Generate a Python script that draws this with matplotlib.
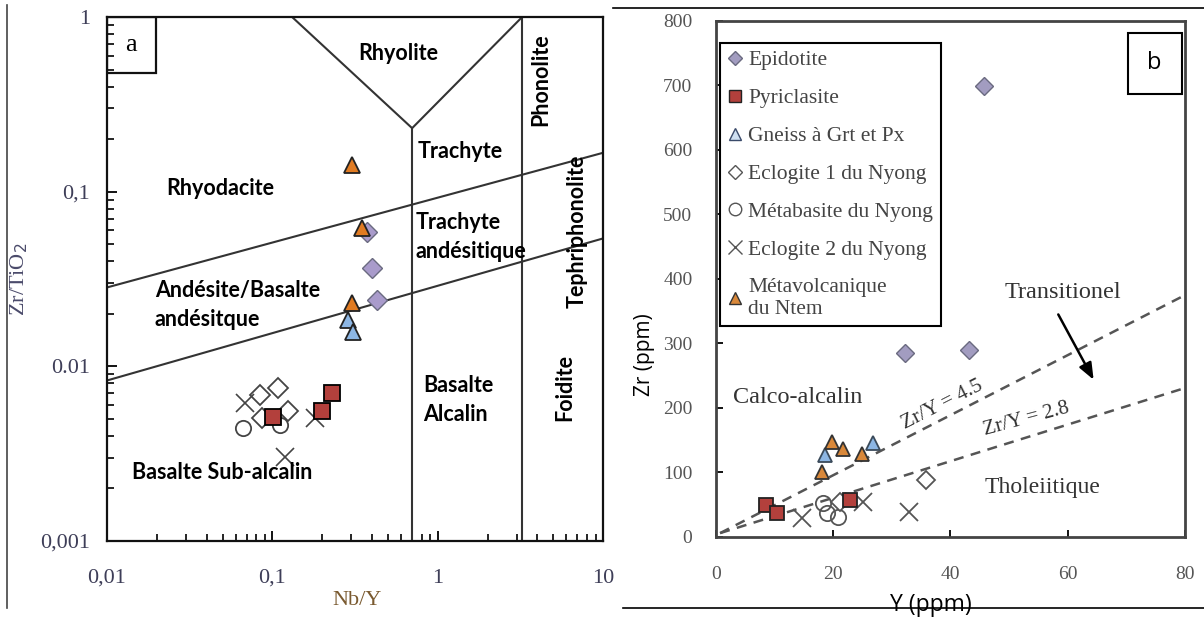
import matplotlib.pyplot as plt
from matplotlib.lines import Line2D
from matplotlib.patches import Rectangle

# ---- panel a : Zr/TiO2 vs Nb/Y (Winchester & Floyd) ----
a_epi_nby = [0.374, 0.401, 0.430]
a_epi_zr = [0.0587, 0.0365, 0.0240]
a_pyr_nby = [0.101, 0.230, 0.200]
a_pyr_zr = [0.00513, 0.00703, 0.00555]
a_gneiss_nby = [0.287, 0.308]
a_gneiss_zr = [0.0184, 0.0157]
a_ecl1_nby = [0.0842, 0.108, 0.0866, 0.124]
a_ecl1_zr = [0.00685, 0.00751, 0.00506, 0.00555]
a_metab_nby = [0.0665, 0.111]
a_metab_zr = [0.00443, 0.00461]
a_ecl2_nby = [0.0684, 0.181, 0.119]
a_ecl2_zr = [0.00617, 0.00506, 0.00303]
a_metav_nby = [0.303, 0.349, 0.303]
a_metav_zr = [0.142, 0.0619, 0.0230]

# limites des champs
upper_x, upper_y = [0.01, 10], [0.0283, 0.167]
lower_x, lower_y = [0.01, 10], [0.0083, 0.054]
v_x, v_y = [0.1316, 0.70, 3.24], [1, 0.231, 1]
vert1_x, vert1_y = [0.70, 0.70], [0.001, 0.231]
vert2_x, vert2_y = [3.24, 3.24], [0.001, 1]

# ---- panel b : Zr vs Y ----
b_epi_y = [45.8, 32.2, 43.2]
b_epi_zr = [699, 285, 290]
b_pyr_y = [8.5, 10.4, 22.8]
b_pyr_zr = [50, 37, 57]
b_gneiss_y = [18.6, 26.7]
b_gneiss_zr = [127, 146]
b_ecl1_y = [21.1, 35.9]
b_ecl1_zr = [54, 88]
b_metab_y = [18.2, 18.9, 20.8]
b_metab_zr = [53, 37, 31]
b_ecl2_y = [14.6, 25.0, 33.0]
b_ecl2_zr = [29, 54, 39]
b_metav_y = [19.8, 21.6, 18.1, 24.9]
b_metav_zr = [147, 137, 101, 129]

line45_y, line45_zr = [0.7, 80], [6, 375]
line28_y, line28_zr = [0.7, 80], [6, 231]

orange = '#e07b22'
purple = '#a99bcb'
blue = '#8cb6e4'
red = '#b3403c'
tickcol = '#3e3e58'
bold_font = 'Lato'

fig = plt.figure(figsize=(12.04, 6.21), dpi=100)

# ------------ panel a ------------
ax = fig.add_axes([0.0889, 0.1288, 0.4120, 0.8438])
ax.set_xscale('log')
ax.set_yscale('log')
ax.set_xlim(0.01, 10)
ax.set_ylim(0.001, 1)

for xs, ys in [(upper_x, upper_y), (lower_x, lower_y), (v_x, v_y),
               (vert1_x, vert1_y), (vert2_x, vert2_y)]:
    ax.plot(xs, ys, color='#333333', lw=1.5, zorder=2)

ms = 11
ax.plot(a_ecl1_nby, a_ecl1_zr, 'D', ms=10, mfc='white', mec='#444444', mew=1.3, ls='none', zorder=3)
ax.plot(a_metab_nby, a_metab_zr, 'o', ms=11, mfc='none', mec='#444444', mew=1.3, ls='none', zorder=3)
ax.plot(a_ecl2_nby, a_ecl2_zr, 'x', ms=13, mec='#444444', mew=1.2, ls='none', zorder=4)
ax.plot(a_pyr_nby, a_pyr_zr, 's', ms=ms, mfc=red, mec='black', mew=1.3, ls='none', zorder=5)
ax.plot(a_epi_nby, a_epi_zr, 'D', ms=10, mfc=purple, mec='#6a6a80', mew=1.0, ls='none', zorder=3)
ax.plot(a_gneiss_nby, a_gneiss_zr, '^', ms=ms, mfc=blue, mec='#222222', mew=1.3, ls='none', zorder=4)
ax.plot(a_metav_nby, a_metav_zr, '^', ms=ms, mfc=orange, mec='#222222', mew=1.3, ls='none', zorder=5)

for s in ax.spines.values():
    s.set_linewidth(1.6)
    s.set_color('#111111')
ax.tick_params(which='both', direction='in', top=False, right=False,
               labelsize=16, labelcolor=tickcol)
ax.tick_params(axis='x', which='both', pad=20)
ax.tick_params(axis='y', which='both', pad=12)
ax.tick_params(which='major', length=7, width=1.3)
ax.tick_params(which='minor', length=5, width=1.2)
ax.set_xticks([0.01, 0.1, 1, 10])
ax.set_xticklabels(['0,01', '0,1', '1', '10'], family='Liberation Serif')
ax.set_yticks([0.001, 0.01, 0.1, 1])
ax.set_yticklabels(['0,001', '0.01', '0,1', '1'], family='Liberation Serif')
ax.set_xlabel('Nb/Y', family='Liberation Serif', fontsize=16, color='#7a5a30')
ax.xaxis.set_label_coords(0.505, -0.095)
ax.set_ylabel('Zr/TiO$_2$', family='Liberation Serif', fontsize=16, color='#4a4a6a')
ax.yaxis.set_label_coords(-0.155, 0.5)

# case "a"
ax.add_patch(Rectangle((0, 0.893), 0.098, 0.107, transform=ax.transAxes,
                       fill=False, ec='#111111', lw=1.6, zorder=6))
ax.text(0.049, 0.946, 'a', transform=ax.transAxes, ha='center', va='center',
        fontsize=19, family='Liberation Serif')

kw = dict(fontsize=15.5, fontweight='bold', family=bold_font, zorder=6)
ax.text(0.58, 0.62, 'Rhyolite', ha='center', va='center', **kw)
ax.text(0.0483, 0.104, 'Rhyodacite', ha='center', va='center', **kw)
ax.text(1.36, 0.17, 'Trachyte', ha='center', va='center', **kw)
ax.text(0.73, 0.055, 'Trachyte\nandésitique', ha='left', va='center', linespacing=1.5, **kw)
ax.text(0.0195, 0.0224, 'Andésite/Basalte\nandésitque', ha='left', va='center', linespacing=1.5, **kw)
ax.text(0.82, 0.0064, 'Basalte\nAlcalin', ha='left', va='center', linespacing=1.5, **kw)
ax.text(0.0497, 0.00248, 'Basalte Sub-alcalin', ha='center', va='center', **kw)
ax.text(4.17, 0.436, 'Phonolite', ha='center', va='center', rotation=90, **kw)
ax.text(6.97, 0.0595, 'Tephriphonolite', ha='center', va='center', rotation=90, **kw)
ax.text(5.9, 0.0076, 'Foidite', ha='center', va='center', rotation=90, **kw)

# ------------ panel b ------------
bx = fig.add_axes([0.5947, 0.1353, 0.3895, 0.8309])
bx.set_xlim(0, 80)
bx.set_ylim(0, 800)

bx.plot(line45_y, line45_zr, ls=(0, (4, 3)), color='#555555', lw=1.8, zorder=2)
bx.plot(line28_y, line28_zr, ls=(0, (4, 3)), color='#555555', lw=1.8, zorder=2)

bms = 10
bx.plot(b_ecl2_y, b_ecl2_zr, 'x', ms=13, mec='#555555', mew=1.3, ls='none', zorder=3)
bx.plot(b_metab_y, b_metab_zr, 'o', ms=11, mfc='none', mec='#555555', mew=1.3, ls='none', zorder=3)
bx.plot(b_ecl1_y, b_ecl1_zr, 'D', ms=9, mfc='white', mec='#555555', mew=1.3, ls='none', zorder=3)
bx.plot(b_pyr_y, b_pyr_zr, 's', ms=bms, mfc=red, mec='#222222', mew=1.3, ls='none', zorder=4)
bx.plot(b_epi_y, b_epi_zr, 'D', ms=9, mfc='#a29cc0', mec='#6a6a80', mew=1.0, ls='none', zorder=4)
bx.plot(b_gneiss_y, b_gneiss_zr, '^', ms=bms, mfc=blue, mec='#3a4a5a', mew=1.3, ls='none', zorder=4)
bx.plot(b_metav_y, b_metav_zr, '^', ms=bms, mfc='#d9883a', mec='#333333', mew=1.3, ls='none', zorder=5)

for s in bx.spines.values():
    s.set_linewidth(2.0)
    s.set_color('#444444')
bx.tick_params(direction='in', top=False, right=False, length=5, width=1.3,
               labelsize=14, labelcolor='#555555')
bx.tick_params(axis='x', pad=21)
bx.tick_params(axis='y', pad=17)
bx.set_xticks([0, 20, 40, 60, 80])
bx.set_yticks(range(0, 801, 100))
for lab in bx.get_xticklabels() + bx.get_yticklabels():
    lab.set_family('Liberation Serif')
bx.set_xlabel('Y (ppm)', fontsize=16.5, family='Open Sans', va='center')
bx.xaxis.set_label_coords(0.458, -0.132)
bx.set_ylabel('Zr (ppm)', fontsize=15, family='Open Sans')
bx.yaxis.set_label_coords(-0.13, 0.353)

serif = dict(family='Liberation Serif', color='#333333')
bx.text(0.74, 0.473, 'Transitionel', transform=bx.transAxes, ha='center', va='center',
        fontsize=17.5, **serif)
bx.text(0.175, 0.271, 'Calco-alcalin', transform=bx.transAxes, ha='center', va='center',
        fontsize=17.5, **serif)
bx.text(0.697, 0.095, 'Tholeiitique', transform=bx.transAxes, ha='center', va='center',
        fontsize=17, **serif)
bx.text(0.482, 0.256, 'Zr/Y = 4.5', transform=bx.transAxes, ha='center', va='center',
        fontsize=15, rotation=27, **serif)
bx.text(0.661, 0.229, 'Zr/Y = 2.8', transform=bx.transAxes, ha='center', va='center',
        fontsize=15, rotation=15, **serif)
bx.annotate('', xy=(0.808, 0.300), xytext=(0.727, 0.436), xycoords='axes fraction',
            arrowprops=dict(arrowstyle='-|>,head_width=0.4,head_length=1.0',
                            color='black', lw=1.8))

# case "b"
bx.add_patch(Rectangle((0.878, 0.859), 0.115, 0.118, transform=bx.transAxes,
                       fill=False, ec='black', lw=1.5, zorder=6))
bx.text(0.935, 0.918, 'b', transform=bx.transAxes, ha='center', va='center',
        fontsize=17, family='Open Sans')

handles = [
    Line2D([], [], marker='D', ms=7, mfc='#a29cc0', mec='#6a6a80', ls='none'),
    Line2D([], [], marker='s', ms=9, mfc=red, mec='#222222', ls='none'),
    Line2D([], [], marker='^', ms=9, mfc='#cfe0f2', mec='#3a4a6a', ls='none'),
    Line2D([], [], marker='D', ms=7, mfc='white', mec='#555555', ls='none'),
    Line2D([], [], marker='o', ms=9, mfc='white', mec='#555555', ls='none'),
    Line2D([], [], marker='x', ms=10, mec='#555555', ls='none'),
    Line2D([], [], marker='^', ms=8, mfc='#d9883a', mec='#333333', ls='none'),
]
labels = ['Epidotite', 'Pyriclasite', 'Gneiss à Grt et Px', 'Eclogite 1 du Nyong',
          'Métabasite du Nyong', 'Eclogite 2 du Nyong', 'Métavolcanique\ndu Ntem']
leg = bx.legend(handles, labels, loc='upper left', bbox_to_anchor=(0.009, 0.958),
                frameon=True, fancybox=False, edgecolor='black', framealpha=1,
                prop={'family': 'Liberation Serif', 'size': 15.5},
                labelspacing=0.83, handlelength=0.7, handletextpad=0.25,
                borderpad=0.35, borderaxespad=0)
leg.get_frame().set_linewidth(1.5)
for t in leg.get_texts():
    t.set_color('#444444')

# traits du cadre de la figure
fig.add_artist(Line2D([7 / 1204, 7 / 1204], [1 - 5 / 621, 1 - 608 / 621], color='#444444', lw=1.2))
fig.add_artist(Line2D([613 / 1204, 1], [1 - 8 / 621, 1 - 8 / 621], color='black', lw=1.2))
fig.add_artist(Line2D([623 / 1204, 1], [1 - 608 / 621, 1 - 608 / 621], color='black', lw=1.2, zorder=10))

fig.savefig('out.png', dpi=100)
